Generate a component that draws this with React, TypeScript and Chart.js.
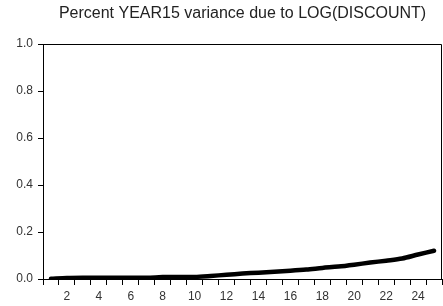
import React, { useEffect, useRef } from "react";
import { Chart, registerables } from "chart.js";

Chart.register(...registerables);

const TITLE = "Percent YEAR15 variance due to LOG(DISCOUNT)";
const periods = [
  "1", "2", "3", "4", "5", "6", "7", "8", "9", "10", "11", "12", "13",
  "14", "15", "16", "17", "18", "19", "20", "21", "22", "23", "24", "25",
];
const variancePct = [
  0.001, 0.004, 0.005, 0.005, 0.005, 0.005, 0.005, 0.008, 0.009, 0.009,
  0.013, 0.018, 0.023, 0.027, 0.031, 0.035, 0.040, 0.047, 0.053, 0.061,
  0.070, 0.078, 0.087, 0.104, 0.120,
];
const yMin = 0;
const yMax = 1;
const yStep = 0.2;

const FONT = "Liberation Sans, Arial, sans-serif";

const framePlugin = {
  id: "frame",
  afterDatasetsDraw(chart: any) {
    const { ctx, chartArea } = chart;
    ctx.save();
    ctx.strokeStyle = "#000";
    ctx.lineWidth = 1;
    ctx.beginPath();
    const t = Math.round(chartArea.top) + 0.5;
    const r = Math.round(chartArea.right) - 0.5;
    ctx.moveTo(chartArea.left, t);
    ctx.lineTo(r, t);
    ctx.lineTo(r, chartArea.bottom);
    ctx.stroke();
    // title centered over the plot area
    ctx.fillStyle = "#222";
    ctx.font = `16px ${FONT}`;
    ctx.textAlign = "center";
    ctx.textBaseline = "middle";
    ctx.fillText(TITLE, (chartArea.left + chartArea.right) / 2, 14);
    ctx.restore();
  },
};

export default function App() {
  const ref = useRef<HTMLCanvasElement | null>(null);
  useEffect(() => {
    document.body.style.margin = "0";
    const canvas = ref.current!;
    const chart = new Chart(canvas, {
      type: "line",
      data: {
        labels: periods,
        datasets: [
          {
            data: variancePct,
            borderColor: "#000",
            borderWidth: 4.5,
            pointRadius: 0,
            tension: 0.3,
            borderCapStyle: "round",
            fill: false,
          },
        ],
      },
      options: {
        animation: false,
        responsive: false,
        maintainAspectRatio: false,
        layout: { padding: { left: 0, right: 1, top: 44, bottom: 0 } },
        plugins: {
          legend: { display: false },
          tooltip: { enabled: false },
          title: { display: false },
        },
        scales: {
          x: {
            type: "category",
            offset: true,
            grid: {
              offset: true,
              drawOnChartArea: false,
              drawTicks: true,
              tickLength: 6,
              color: "#000",
            },
            border: { display: true, color: "#000", width: 1 },
            ticks: {
              autoSkip: false,
              maxRotation: 0,
              padding: 4,
              color: "#333",
              font: { family: FONT, size: 12 },
              callback: (_v: any, i: number) => (i % 2 === 1 ? periods[i] : ""),
            },
            afterFit: (s: any) => {
              s.height = 27;
            },
          },
          y: {
            min: yMin,
            max: yMax,
            grid: {
              drawOnChartArea: false,
              drawTicks: true,
              tickLength: 5,
              color: "#000",
            },
            border: { display: true, color: "#000", width: 1 },
            ticks: {
              stepSize: yStep,
              padding: 5,
              color: "#333",
              font: { family: FONT, size: 12 },
              callback: (v: any) => Number(v).toFixed(1),
            },
            afterFit: (s: any) => {
              s.width = 43;
            },
          },
        },
      },
      plugins: [framePlugin],
    } as any);
    return () => chart.destroy();
  }, []);
  return (
    <div style={{ position: "absolute", left: 0, top: 0, width: 443, height: 306 }}>
      <canvas ref={ref} width={443} height={306} style={{ width: 443, height: 306 }} />
    </div>
  );
}
